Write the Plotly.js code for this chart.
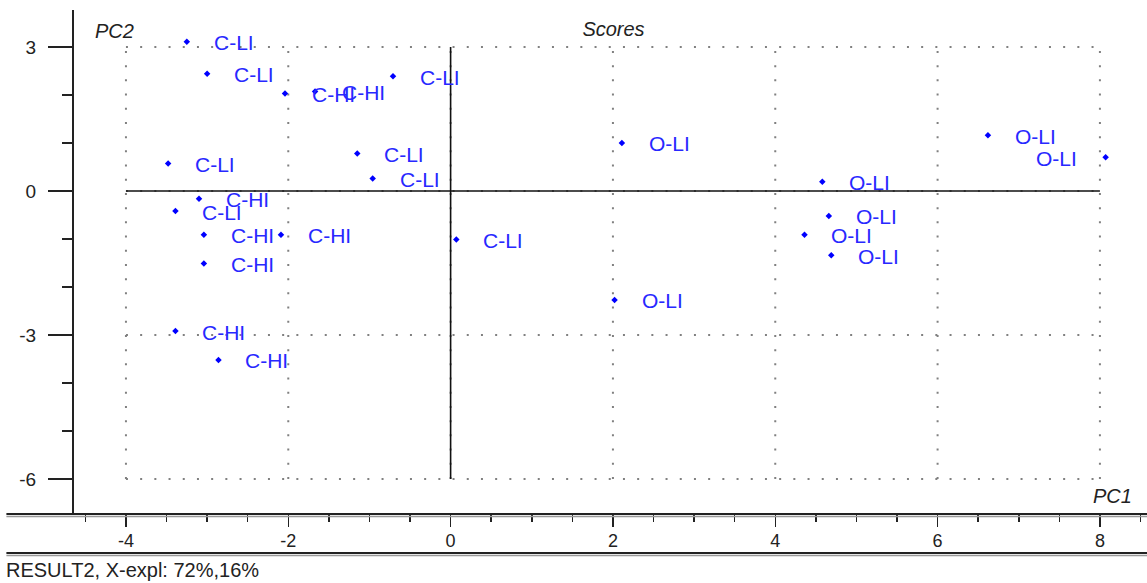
<!DOCTYPE html>
<html>
<head>
<meta charset="utf-8">
<script src="https://cdn.plot.ly/plotly-3.0.1.min.js"></script>
<style>
html,body{margin:0;padding:0;background:#fff;}
#chart{width:1147px;height:583px;}
</style>
</head>
<body>
<div id="chart"></div>
<script>
// ---- data ----
var xTicks = [-4, -2, 0, 2, 4, 6, 8];
var yTicks = [3, 0, -3, -6];

var cliX = [-3.25, -3.00, -0.71, -1.15, -0.96, -3.48, -3.39, 0.07];
var cliY = [3.11, 2.44, 2.39, 0.78, 0.26, 0.57, -0.42, -1.01];

var chiX = [-2.04, -1.67, -3.10, -3.04, -2.09, -3.04, -3.39, -2.86];
var chiY = [2.03, 2.07, -0.16, -0.91, -0.91, -1.51, -2.92, -3.52];

var oliX = [2.11, 2.02, 4.58, 4.66, 4.36, 4.69, 6.62, 8.07];
var oliY = [1.00, -2.27, 0.19, -0.52, -0.91, -1.34, 1.16, 0.70];

var groups = [
  {name: 'C-LI', x: cliX, y: cliY},
  {name: 'C-HI', x: chiX, y: chiY},
  {name: 'O-LI', x: oliX, y: oliY}
];

var chartTitle = 'Scores';
var xLabel = 'PC1';
var yLabel = 'PC2';
var footer = 'RESULT2, X-expl: 72%,16%';

// ---- build ----
var FONT = 'Liberation Sans, Arial, sans-serif';
var BLUE = '#0000ff';
var TXT = 'rgb(40,40,255)';

var traces = groups.map(function (g) {
  return {
    type: 'scatter', mode: 'markers', name: g.name,
    x: g.x, y: g.y, cliponaxis: false,
    marker: {symbol: 'diamond', size: 5, color: BLUE},
    hoverinfo: 'text', text: g.name
  };
});

var xMin = Math.min.apply(null, xTicks), xMax = Math.max.apply(null, xTicks);
var yMin = Math.min.apply(null, yTicks), yMax = Math.max.apply(null, yTicks);

var shapes = [];
var dotLine = {color: '#808080', width: 2, dash: '2px,12.2px'};
xTicks.forEach(function (v) {
  shapes.push({type: 'line', xref: 'x', yref: 'y', x0: v, x1: v, y0: yMin, y1: yMax, line: dotLine, layer: 'below'});
});
yTicks.forEach(function (v) {
  shapes.push({type: 'line', xref: 'x', yref: 'y', x0: xMin, x1: xMax, y0: v, y1: v, line: dotLine, layer: 'below'});
});
// solid origin lines
shapes.push({type: 'line', xref: 'x', yref: 'y', x0: 0, x1: 0, y0: yMin, y1: yMax, line: {color: '#111', width: 1.6}, layer: 'below'});
shapes.push({type: 'line', xref: 'x', yref: 'y', x0: xMin, x1: xMax, y0: 0, y1: 0, line: {color: '#111', width: 1.6}, layer: 'below'});
// double rules framing the x axis band
[0, -39 / 504].forEach(function (py) {
  shapes.push({type: 'line', xref: 'paper', yref: 'paper', x0: -0.063, x1: 1, y0: py, y1: py, line: {color: '#222', width: 2}});
  shapes.push({type: 'line', xref: 'paper', yref: 'paper', x0: -0.063, x1: 1, y0: py - 2.6 / 504, y1: py - 2.6 / 504, line: {color: '#999', width: 1.5}});
});

var annotations = [];
groups.forEach(function (g) {
  g.x.forEach(function (xv, i) {
    var leftSide = xv > xMax - 0.5;
    annotations.push({
      x: xv, y: g.y[i], xref: 'x', yref: 'y', text: g.name, showarrow: false,
      xanchor: leftSide ? 'right' : 'left', yanchor: 'middle',
      xshift: leftSide ? -27 : 25, yshift: -1,
      font: {family: FONT, size: 21, color: TXT}
    });
  });
});
annotations.push({xref: 'paper', yref: 'paper', x: 19 / 1073, y: (514 - 31) / 504, xanchor: 'left', yanchor: 'middle',
  text: '<i>' + yLabel + '</i>', showarrow: false, font: {family: FONT, size: 20, color: '#222'}});
annotations.push({xref: 'paper', yref: 'paper', x: (1134 - 74) / 1073, y: (514 - 496) / 504, xanchor: 'right', yanchor: 'middle',
  text: '<i>' + xLabel + '</i>', showarrow: false, font: {family: FONT, size: 20, color: '#222'}});
annotations.push({xref: 'paper', yref: 'paper', x: (4 - 74) / 1073, y: (514 - 570) / 504, xanchor: 'left', yanchor: 'middle',
  text: footer, showarrow: false, font: {family: FONT, size: 20, color: '#222'}});

var layout = {
  width: 1147, height: 583,
  margin: {l: 74, r: 0, t: 10, b: 69, pad: 0},
  paper_bgcolor: '#fff', plot_bgcolor: '#fff',
  showlegend: false,
  title: {text: '<i>' + chartTitle + '</i>', xref: 'container', yref: 'container', x: 613.5 / 1147, y: 1 - 29 / 583,
    xanchor: 'center', yanchor: 'middle', font: {family: FONT, size: 20, color: '#222'}},
  xaxis: {
    range: [-4.64, 8.58], showgrid: false, zeroline: false, showline: false,
    tickmode: 'array', tickvals: xTicks, ticktext: xTicks.map(String),
    ticks: 'outside', ticklen: 12, tickwidth: 1.5, tickcolor: '#222',
    minor: {tickmode: 'linear', tick0: 0, dtick: 0.5, ticks: 'outside', ticklen: 7, tickwidth: 1.5, tickcolor: '#222', showgrid: false},
    ticklabelstandoff: -2,
    tickfont: {family: FONT, size: 18, color: '#222'}, fixedrange: true
  },
  yaxis: {
    range: [-6.73, 3.77], showgrid: false, zeroline: false,
    showline: true, linecolor: '#222', linewidth: 2,
    tickmode: 'array', tickvals: yTicks, ticktext: yTicks.map(String),
    ticks: 'outside', ticklen: 24, tickwidth: 1.5, tickcolor: '#222',
    minor: {tickmode: 'linear', tick0: 0, dtick: 1, ticks: 'outside', ticklen: 10, tickwidth: 1.5, tickcolor: '#222', showgrid: false},
    ticklabelstandoff: 8,
    tickfont: {family: FONT, size: 19, color: '#222'}, fixedrange: true
  },
  shapes: shapes,
  annotations: annotations
};

Plotly.newPlot('chart', traces, layout, {displayModeBar: false, staticPlot: true});
</script>
</body>
</html>
